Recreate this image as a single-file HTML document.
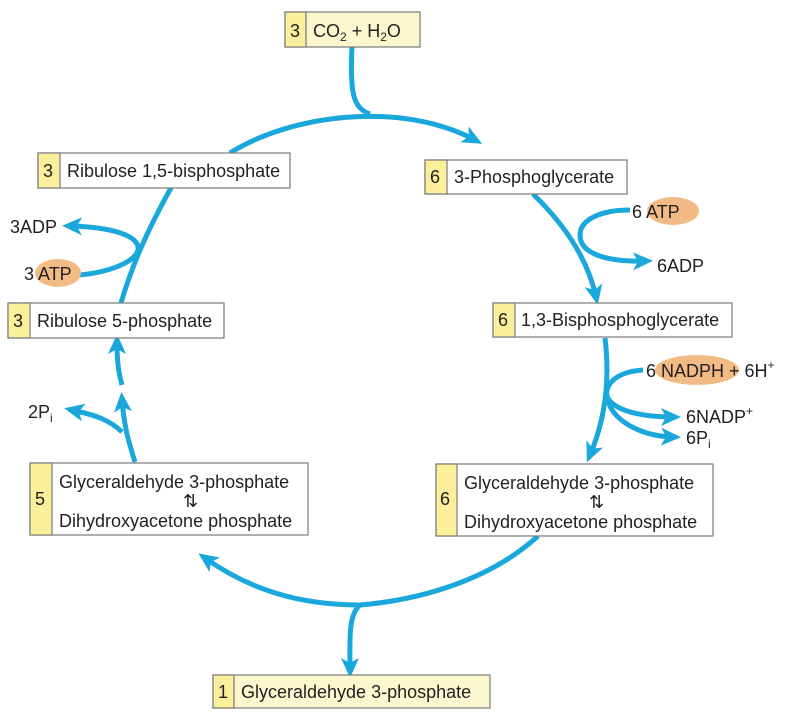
<!DOCTYPE html>
<html><head><meta charset="utf-8"><style>
body{margin:0;background:#fff}
svg{display:block}
text{font-family:"Liberation Sans",sans-serif;font-size:18px;fill:#231f20}
</style></head><body>
<svg width="800" height="716" viewBox="0 0 800 716">
<defs>
<marker id="ahb" markerWidth="20" markerHeight="20" refX="12" refY="10" orient="auto" markerUnits="userSpaceOnUse" viewBox="0 0 20 20">
<path d="M0,1 L20,10 L0,19 L5,10Z" fill="#1aa7dc"/></marker>
</defs>
<g fill="none" stroke="#1aa7dc" stroke-width="5">
<path d="M230,153 C290,115 400,100 475,140" marker-end="url(#ahb)"/>
<path d="M352,47 C350,90 352,108 370,114"/>
<path d="M533,194 C565,225 588,260 596,297" marker-end="url(#ahb)"/>
<path d="M605,338 C610,380 605,420 590,455" marker-end="url(#ahb)"/>
<path d="M538,536 C490,580 420,600 360,605"/>
<path d="M360,605 C300,605 250,590 205,558" marker-end="url(#ahb)"/>
<path d="M360,605 C348,615 350,640 350,670" marker-end="url(#ahb)"/>
<path d="M135,462 C128,440 124,425 122,400" marker-end="url(#ahb)"/>
<path d="M122,385 C118,370 117,360 117,342" marker-end="url(#ahb)"/>
<path d="M122,432 C110,420 95,415 72,410" marker-end="url(#ahb)"/>
<path d="M121,303 C135,255 155,215 185,163" marker-end="url(#ahb)"/>
<path d="M80,275 C110,272 135,262 138,250 C140,235 110,227 70,226" marker-end="url(#ahb)"/>
<path d="M630,210 C600,210 580,220 580,235 C580,255 610,262 645,261" marker-end="url(#ahb)"/>
<path d="M643,370 C615,372 605,385 607,396 C612,410 640,417 673,417" marker-end="url(#ahb)"/>
<path d="M607,396 C610,420 640,436 673,437" marker-end="url(#ahb)"/>
</g>
<g stroke="#7a7a7a" stroke-width="1.2">
<g><rect x="285" y="12" width="135" height="35" fill="#fdf7cf"/><rect x="285" y="12" width="21" height="35" fill="#fbef9b"/></g>
<g><rect x="38" y="153" width="252" height="35" fill="#fff"/><rect x="38" y="153" width="22" height="35" fill="#fbef9b"/></g>
<g><rect x="425" y="160" width="202" height="34" fill="#fff"/><rect x="425" y="160" width="22" height="34" fill="#fbef9b"/></g>
<g><rect x="8" y="303" width="216" height="35" fill="#fff"/><rect x="8" y="303" width="22" height="35" fill="#fbef9b"/></g>
<g><rect x="493" y="303" width="239" height="34" fill="#fff"/><rect x="493" y="303" width="22" height="34" fill="#fbef9b"/></g>
<g><rect x="30" y="463" width="278" height="72" fill="#fff"/><rect x="30" y="463" width="22" height="72" fill="#fbef9b"/></g>
<g><rect x="436" y="464" width="277" height="72" fill="#fff"/><rect x="436" y="464" width="21" height="72" fill="#fbef9b"/></g>
<g><rect x="213" y="675" width="277" height="33" fill="#fdf7cf"/><rect x="213" y="675" width="21" height="33" fill="#fbef9b"/></g>
</g>
<ellipse cx="58" cy="273" rx="23" ry="14" fill="#f2bb86"/>
<ellipse cx="673" cy="211" rx="26" ry="14" fill="#f2bb86"/>
<ellipse cx="697" cy="370" rx="42" ry="15" fill="#f2bb86"/>
<g>
<text x="290" y="37">3</text><text x="313" y="37">CO<tspan font-size="12" dy="4">2</tspan><tspan dy="-4"> + H</tspan><tspan font-size="12" dy="4">2</tspan><tspan dy="-4">O</tspan></text>
<text x="43" y="177">3</text><text x="67" y="177">Ribulose 1,5-bisphosphate</text>
<text x="430" y="183">6</text><text x="454" y="183">3-Phosphoglycerate</text>
<text x="13" y="327">3</text><text x="37" y="327">Ribulose 5-phosphate</text>
<text x="498" y="326">6</text><text x="521" y="326">1,3-Bisphosphoglycerate</text>
<text x="35" y="505">5</text><text x="59" y="488">Glyceraldehyde 3-phosphate</text><text x="59" y="527">Dihydroxyacetone phosphate</text>
<text x="440" y="505">6</text><text x="464" y="489">Glyceraldehyde 3-phosphate</text><text x="464" y="528">Dihydroxyacetone phosphate</text>
<text x="183" y="507" font-size="14">⇅</text><text x="589" y="508" font-size="14">⇅</text>
<text x="218" y="698">1</text><text x="241" y="698">Glyceraldehyde 3-phosphate</text>
<text x="10" y="233">3ADP</text>
<text x="24" y="280">3 ATP</text>
<text x="632" y="218">6 ATP</text>
<text x="657" y="272">6ADP</text>
<text x="646" y="377">6 NADPH + 6H<tspan font-size="12" dy="-8">+</tspan></text>
<text x="686" y="423">6NADP<tspan font-size="12" dy="-8">+</tspan></text>
<text x="686" y="444">6P<tspan font-size="12" dy="4">i</tspan></text>
<text x="28" y="418">2P<tspan font-size="12" dy="4">i</tspan></text>
</g>
</svg>
</body></html>
